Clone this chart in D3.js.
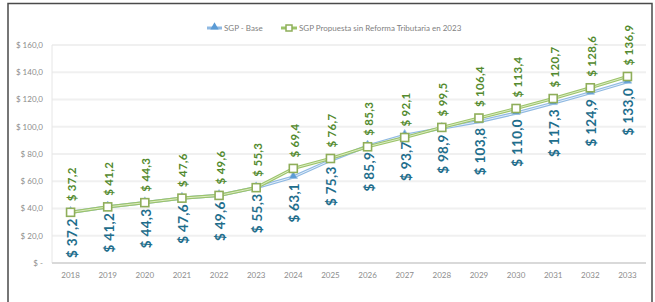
<!DOCTYPE html>
<html>
<head>
<meta charset="utf-8">
<script src="https://cdn.jsdelivr.net/npm/d3@7"></script>
<style>
  body { margin: 0; background: #fff; }
  svg text { font-family: "Lato", "Open Sans", sans-serif; }
</style>
</head>
<body>
<svg id="chart"></svg>
<script>
// Chart data
const years = ["2018", "2019", "2020", "2021", "2022", "2023", "2024", "2025",
  "2026", "2027", "2028", "2029", "2030", "2031", "2032", "2033"];
const sgpBase = [37.2, 41.2, 44.3, 47.6, 49.6, 55.3, 63.1, 75.3, 85.9, 93.7,
  98.9, 103.8, 110.0, 117.3, 124.9, 133.0];
const sgpPropuesta = [37.2, 41.2, 44.3, 47.6, 49.6, 55.3, 69.4, 76.7, 85.3, 92.1,
  99.5, 106.4, 113.4, 120.7, 128.6, 136.9];
const yTicks = [0, 20, 40, 60, 80, 100, 120, 140, 160];
const seriesNames = ["SGP - Base", "SGP Propuesta sin Reforma Tributaria en 2023"];

const W = 655, H = 302;
const svg = d3.select("#chart").attr("width", W).attr("height", H);

// frame
svg.append("rect")
  .attr("x", 8).attr("y", 3.5)
  .attr("width", 644).attr("height", 310)
  .attr("fill", "none")
  .attr("stroke", "#4a4a4a")
  .attr("stroke-width", 1.5);

const x = d3.scaleBand().domain(years).range([52, 646]);
const y = d3.scaleLinear().domain([0, 160]).range([263, 45]);
const cx = (d) => x(d) + x.bandwidth() / 2;

const fmt = (v) => "$ " + v.toFixed(1).replace(".", ",");

// gridlines
svg.append("g")
  .selectAll("line")
  .data(yTicks.filter((t) => t > 0))
  .enter()
  .append("line")
  .attr("x1", 52).attr("x2", 646)
  .attr("y1", (d) => y(d)).attr("y2", (d) => y(d))
  .attr("stroke", "#f0f0f0")
  .attr("stroke-width", 1.8);

// y axis line + baseline
svg.append("line")
  .attr("x1", 52).attr("x2", 52).attr("y1", 45).attr("y2", 263)
  .attr("stroke", "#e6e6e6").attr("stroke-width", 1);
svg.append("line")
  .attr("x1", 52).attr("x2", 646).attr("y1", 263).attr("y2", 263)
  .attr("stroke", "#d9d9d9").attr("stroke-width", 1.8);

// y labels
svg.append("g")
  .selectAll("text")
  .data(yTicks)
  .enter()
  .append("text")
  .attr("x", 43)
  .attr("y", (d) => y(d))
  .attr("dy", "0.35em")
  .attr("text-anchor", "end")
  .attr("fill", "#8c8c8c")
  .style("font-size", "8px")
  .text((d) => (d === 0 ? "$ -" : fmt(d)));

// x axis labels
const xAxis = svg.append("g")
  .attr("transform", "translate(0,263)")
  .call(d3.axisBottom(x).tickSize(0).tickPadding(9));
xAxis.select(".domain").remove();
xAxis.selectAll("text")
  .attr("fill", "#8c8c8c")
  .style("font-size", "8px")
  .style("font-family", "Lato, sans-serif");

// lines (double-stroke look)
const line = d3.line().x((d, i) => cx(years[i])).y((d) => y(d));

function drawLine(values, outer, inner) {
  svg.append("path").datum(values)
    .attr("d", line).attr("fill", "none")
    .attr("stroke", outer).attr("stroke-width", 3.2);
  svg.append("path").datum(values)
    .attr("d", line).attr("fill", "none")
    .attr("stroke", inner).attr("stroke-width", 1);
}
drawLine(sgpBase, "#8fb9e2", "#e3eef9");
drawLine(sgpPropuesta, "#9cc46a", "#dcecc6");

// markers
const tri = d3.symbol().type(d3.symbolTriangle).size(30);
svg.append("g")
  .selectAll("path")
  .data(sgpBase)
  .enter()
  .append("path")
  .attr("d", tri)
  .attr("transform", (d, i) => `translate(${cx(years[i])},${y(d) - 1})`)
  .attr("fill", "#5b9bd5")
  .attr("stroke", "#9dc3e6")
  .attr("stroke-width", 0.8);

svg.append("g")
  .selectAll("rect")
  .data(sgpPropuesta)
  .enter()
  .append("rect")
  .attr("x", (d, i) => cx(years[i]) - 4)
  .attr("y", (d) => y(d) - 4)
  .attr("width", 8).attr("height", 8)
  .attr("fill", "#fff")
  .attr("stroke", "#8fae5a")
  .attr("stroke-width", 1.6);

// data labels: green above, blue below
svg.append("g")
  .selectAll("text")
  .data(sgpPropuesta)
  .enter()
  .append("text")
  .attr("transform", (d, i) => `translate(${cx(years[i]) + 1},${y(d) - 11}) rotate(-90)`)
  .attr("dominant-baseline", "central")
  .attr("text-anchor", "start")
  .attr("fill", "#538a2e")
  .style("font-size", "11.5px")
  .style("font-weight", "bold")
  .style("letter-spacing", "0.3px")
  .text((d) => fmt(d));

svg.append("g")
  .selectAll("text")
  .data(sgpBase)
  .enter()
  .append("text")
  .attr("transform", (d, i) => `translate(${cx(years[i]) + 1},${y(d) + 6}) rotate(-90)`)
  .attr("dominant-baseline", "central")
  .attr("text-anchor", "end")
  .attr("fill", "#1f6e8c")
  .style("font-size", "13.5px")
  .style("font-weight", "bold")
  .style("letter-spacing", "0.3px")
  .text((d) => fmt(d));

// legend
const legend = svg.append("g");
legend.append("line")
  .attr("x1", 207).attr("x2", 222).attr("y1", 28).attr("y2", 28)
  .attr("stroke", "#8fb9e2").attr("stroke-width", 3);
legend.append("path")
  .attr("d", tri)
  .attr("transform", "translate(214.5,27)")
  .attr("fill", "#5b9bd5");
legend.append("text")
  .attr("x", 224).attr("y", 28).attr("dy", "0.35em")
  .attr("fill", "#7f7f7f").style("font-size", "8px")
  .text(seriesNames[0]);

legend.append("line")
  .attr("x1", 281).attr("x2", 297).attr("y1", 28).attr("y2", 28)
  .attr("stroke", "#9cc46a").attr("stroke-width", 3);
legend.append("rect")
  .attr("x", 286).attr("y", 25).attr("width", 6).attr("height", 6)
  .attr("fill", "#fff").attr("stroke", "#8fae5a").attr("stroke-width", 1.5);
legend.append("text")
  .attr("x", 299).attr("y", 28).attr("dy", "0.35em")
  .attr("fill", "#7f7f7f").style("font-size", "8px")
  .text(seriesNames[1]);
</script>
</body>
</html>
